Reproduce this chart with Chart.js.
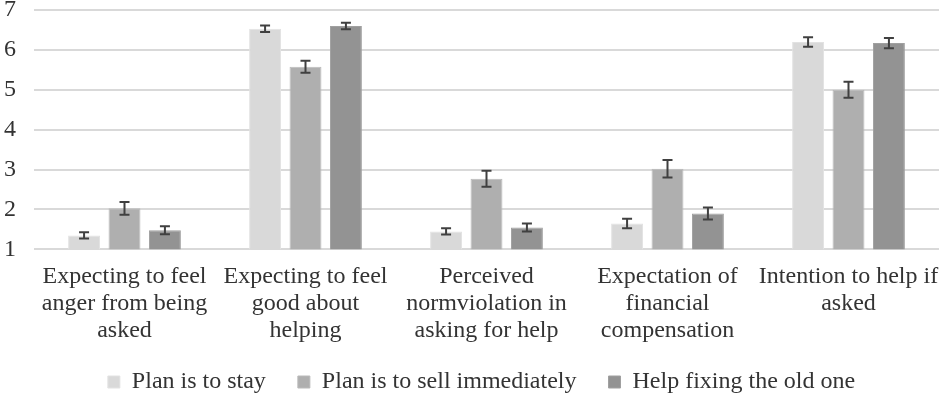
<!DOCTYPE html>
<html>
<head>
<meta charset="utf-8">
<script src="https://cdn.jsdelivr.net/npm/chart.js@4"></script>
<style>
  html, body { margin: 0; padding: 0; background: #fff; }
  #wrap { width: 939px; height: 397px; }
</style>
</head>
<body>
<div id="wrap"><canvas id="chart" width="939" height="397"></canvas></div>
<script>
const categories = [
    ["Expecting to feel", "anger from being", "asked"],
    ["Expecting to feel", "good about", "helping"],
    ["Perceived", "normviolation in", "asking for help"],
    ["Expectation of", "financial", "compensation"],
    ["Intention to help if", "asked"]
];
const seriesNames = ["Plan is to stay", "Plan is to sell immediately", "Help fixing the old one"];
const stayValues = [1.35, 6.53, 1.45, 1.65, 6.2];
const sellValues = [2.03, 5.58, 2.77, 3.02, 5.0];
const fixValues = [1.48, 6.6, 1.55, 1.9, 6.17];
const stayErrors = [0.08, 0.08, 0.08, 0.12, 0.12];
const sellErrors = [0.16, 0.15, 0.2, 0.22, 0.2];
const fixErrors = [0.1, 0.08, 0.1, 0.15, 0.13];
const yTicks = [1, 2, 3, 4, 5, 6, 7];

const colors = ['#d9d9d9', '#afafaf', '#939393'];
const textColor = '#333333';
const fontFamily = '"Liberation Serif", "Times New Roman", serif';

// draws the error whiskers on top of each bar
const errorBars = {
    id: 'errorBars',
    afterDatasetsDraw(chart) {
        const ctx = chart.ctx;
        const yScale = chart.scales.y;
        ctx.save();
        ctx.strokeStyle = '#404040';
        ctx.lineWidth = 2;
        chart.data.datasets.forEach(function (ds, i) {
            const meta = chart.getDatasetMeta(i);
            meta.data.forEach(function (bar, j) {
                const v = ds.data[j];
                const e = ds.errors[j];
                const top = yScale.getPixelForValue(v + e);
                const bot = yScale.getPixelForValue(v - e);
                const x = bar.x;
                ctx.beginPath();
                ctx.moveTo(x, top); ctx.lineTo(x, bot);
                ctx.moveTo(x - 5, top); ctx.lineTo(x + 5, top);
                ctx.moveTo(x - 5, bot); ctx.lineTo(x + 5, bot);
                ctx.stroke();
            });
        });
        ctx.restore();
    }
};

// wide gaps between legend items but less room above them
const legendTweak = {
    id: 'legendTweak',
    afterInit(chart) {
        const lg = chart.legend;
        const fit = lg.fit;
        const draw = lg.draw;
        lg.fit = function () {
            fit.call(this);
            this.height -= 12;
        };
        lg.draw = function () {
            this.top -= 12;
            this.left += 12;
            this.right += 12;
            draw.call(this);
            this.top += 12;
            this.left -= 12;
            this.right -= 12;
        };
    }
};

const ctx = document.getElementById('chart').getContext('2d');

new Chart(ctx, {
    type: 'bar',
    data: {
        labels: categories,
        datasets: [
            { label: seriesNames[0], data: stayValues, errors: stayErrors, backgroundColor: colors[0], borderColor: '#e2e2e2', borderWidth: 1 },
            { label: seriesNames[1], data: sellValues, errors: sellErrors, backgroundColor: colors[1], borderColor: '#bababa', borderWidth: 1 },
            { label: seriesNames[2], data: fixValues, errors: fixErrors, backgroundColor: colors[2], borderColor: '#a0a0a0', borderWidth: 1 }
        ]
    },
    options: {
        responsive: false,
        animation: false,
        categoryPercentage: 0.67,
        barPercentage: 0.79,
        layout: { padding: { top: 0, right: 0, left: 0, bottom: -7 } },
        plugins: {
            tooltip: { enabled: false },
            legend: {
                position: 'bottom',
                labels: {
                    boxWidth: 12,
                    boxHeight: 12,
                    padding: 32,
                    color: textColor,
                    font: { family: fontFamily, size: 24 }
                }
            }
        },
        scales: {
            x: {
                afterFit: function (scale) {
                    scale.paddingLeft = 0;
                    scale.paddingRight = 0;
                },
                grid: { display: false },
                border: { display: false },
                ticks: {
                    color: textColor,
                    maxRotation: 0,
                    autoSkip: false,
                    padding: 6,
                    font: { family: fontFamily, size: 24, lineHeight: 1.12 }
                }
            },
            y: {
                min: 1,
                max: 7,
                afterFit: function (scale) {
                    scale.width = 34;
                    scale.paddingTop = 10;
                    scale.paddingBottom = 0;
                },
                afterBuildTicks: function (scale) {
                    scale.ticks = yTicks.map(function (v) { return { value: v }; });
                },
                border: { display: false },
                grid: { color: '#d9d9d9', lineWidth: 2, drawTicks: false },
                ticks: {
                    color: textColor,
                    padding: 18,
                    font: { family: fontFamily, size: 24, lineHeight: 1 }
                }
            }
        }
    },
    plugins: [errorBars, legendTweak]
});
</script>
</body>
</html>
